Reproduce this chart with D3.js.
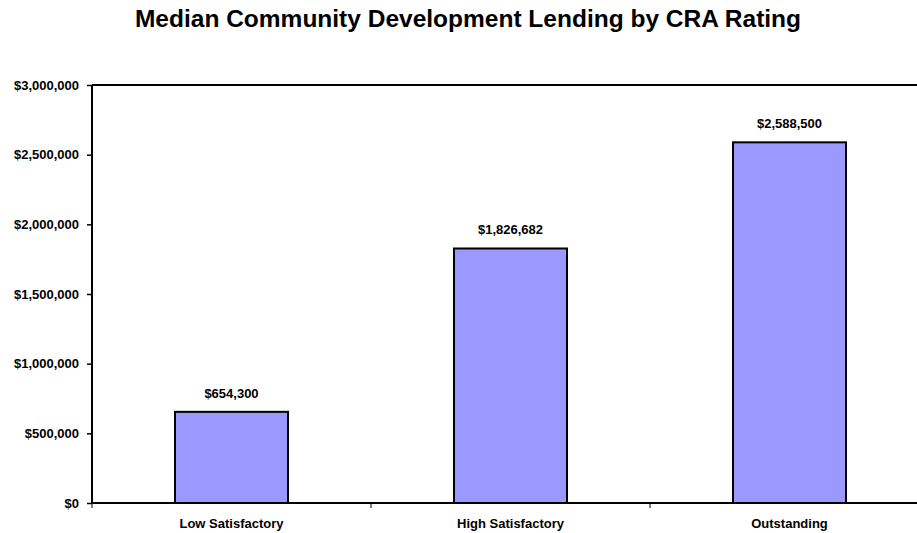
<!DOCTYPE html>
<html>
<head>
<meta charset="utf-8">
<script src="https://cdn.jsdelivr.net/npm/d3@7"></script>
<style>
  html, body { margin: 0; padding: 0; background: #fff; }
  svg { display: block; font-family: "Liberation Sans", Arial, sans-serif; }
</style>
</head>
<body>
<svg id="chart" width="917" height="533"></svg>
<script>
const title = "Median Community Development Lending by CRA Rating";
const categories = ["Low Satisfactory", "High Satisfactory", "Outstanding"];
const values = [654300, 1826682, 2588500];
const yTicks = [0, 500000, 1000000, 1500000, 2000000, 2500000, 3000000];

(function () {
const svg = d3.select("#chart");
const pL = 92, pR = 929, pT = 85, pB = 503;

const x = d3.scaleBand().domain(categories).range([pL, pR])
  .paddingInner(0.595).paddingOuter(0.2975);
const y = d3.scaleLinear().domain([0, 3000000]).range([pB, pT]);
const fmt = d3.format("$,");

// title
svg.append("text").attr("x", 468).attr("y", 27).attr("text-anchor", "middle")
  .attr("font-size", 24.5).attr("font-weight", "bold").text(title);

// bars
svg.selectAll("rect.bar").data(values).enter().append("rect")
  .attr("class", "bar")
  .attr("x", (d, i) => x(categories[i]))
  .attr("width", x.bandwidth())
  .attr("y", d => y(d))
  .attr("height", d => y(0) - y(d))
  .attr("fill", "#9999FF").attr("stroke", "#000").attr("stroke-width", 2);

// value labels
svg.selectAll("text.val").data(values).enter().append("text")
  .attr("class", "val")
  .attr("x", (d, i) => x(categories[i]) + x.bandwidth() / 2)
  .attr("y", d => y(d) - 14)
  .attr("text-anchor", "middle").attr("font-size", 13).attr("font-weight", "bold")
  .text(d => fmt(d));

// top border line
svg.append("line").attr("x1", pL).attr("x2", pR).attr("y1", pT).attr("y2", pT)
  .attr("stroke", "#000").attr("stroke-width", 2);

// y axis
const yAxis = d3.axisLeft(y).tickValues(yTicks).tickFormat(fmt).tickSize(5).tickPadding(8);
const gy = svg.append("g").attr("transform", `translate(${pL},0)`).call(yAxis);
gy.select(".domain").attr("stroke-width", 2).attr("d", `M0,${pT}V${pB}`);
gy.selectAll(".tick line").attr("stroke-width", 1.5);
gy.selectAll(".tick text").attr("font-size", 13).attr("font-weight", "bold")
  .attr("font-family", "Liberation Sans, Arial, sans-serif").attr("fill", "#000");

// x axis
const xAxis = d3.axisBottom(x).tickSize(0).tickPadding(16);
const gx = svg.append("g").attr("transform", `translate(0,${pB})`).call(xAxis);
gx.select(".domain").attr("stroke-width", 2).attr("d", `M${pL},0H${pR}`);
gx.selectAll(".tick text").attr("font-size", 13).attr("font-weight", "bold")
  .attr("font-family", "Liberation Sans, Arial, sans-serif").attr("fill", "#000");
// category boundary ticks
const step = x.step();
const bounds = d3.range(categories.length).map(i => pL + i * step);
gx.selectAll("line.bt").data(bounds).enter().append("line").attr("class", "bt")
  .attr("x1", d => d).attr("x2", d => d).attr("y1", 0).attr("y2", 5)
  .attr("stroke", "#000").attr("stroke-width", 1);
})();
</script>
</body>
</html>
